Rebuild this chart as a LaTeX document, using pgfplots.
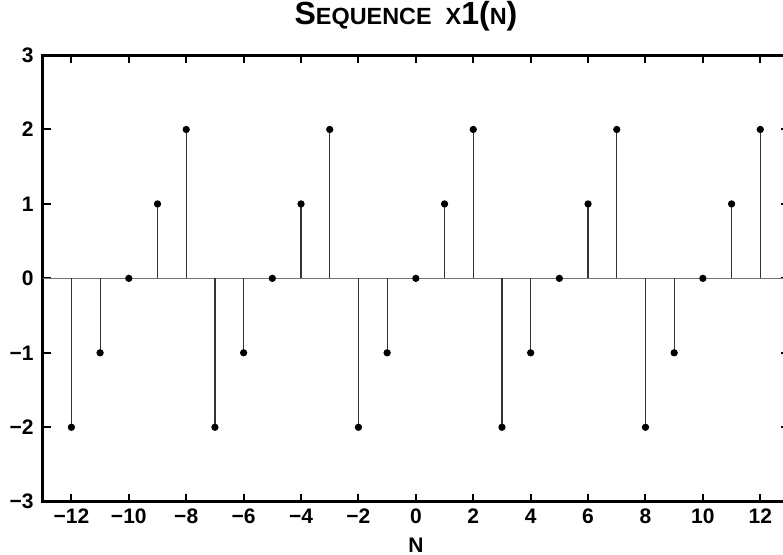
\documentclass[border=0pt]{standalone}
\usepackage{fontspec}
\setmainfont{Liberation Sans}
\usepackage{pgfplots}
\pgfplotsset{compat=1.18}
\begin{document}
\begin{tikzpicture}
\begin{axis}[
  scale only axis,
  width=373.15pt, height=223.35pt,
  at={(0,0)}, anchor=south west,
  xmin=-13, xmax=13, ymin=-3, ymax=3,
  axis line style={line width=1.5pt},
  tick style={line width=1pt, black},
  major tick length=4pt,
  tick align=inside,
  xtick={-12,-10,...,12},
  xticklabels={−12,−10,−8,−6,−4,−2,0,2,4,6,8,10,12},
  ytick={-3,-2,...,3},
  yticklabels={−3,−2,−1,0,1,2,3},
  ticklabel style={font=\fontsize{10.5}{12}\selectfont\bfseries},
  xticklabel style={yshift=0pt},
  yticklabel style={xshift=-1pt},
  clip=false,
]
\addplot[black!55, line width=0.7pt, forget plot] coordinates {(-13,0) (13,0)};
\addplot+[ycomb, black!80, line width=0.6pt, mark=*, mark size=1.5pt,
  mark options={black, fill=black}] coordinates {
(-12,-2) (-11,-1) (-10,0) (-9,1) (-8,2)
(-7,-2) (-6,-1) (-5,0) (-4,1) (-3,2)
(-2,-2) (-1,-1) (0,0) (1,1) (2,2)
(3,-2) (4,-1) (5,0) (6,1) (7,2)
(8,-2) (9,-1) (10,0) (11,1) (12,2)
};
\end{axis}
\node[anchor=base, font=\bfseries] at (181.65pt,238.85pt)
  {{\fontsize{16}{18}\selectfont S}{\fontsize{11.7}{14}\selectfont EQUENCE\hspace{0.6em}X}{\fontsize{16}{18}\selectfont 1(}{\fontsize{11.7}{14}\selectfont N}{\fontsize{16}{18}\selectfont )}};
\node[anchor=base, font=\fontsize{10.5}{12}\selectfont\bfseries] at (186.65pt,-25.2pt) {N};
\pgfresetboundingbox
\useasboundingbox (-21.35pt,-26.15pt) rectangle (370.15pt,250.85pt);
\end{tikzpicture}
\end{document}
